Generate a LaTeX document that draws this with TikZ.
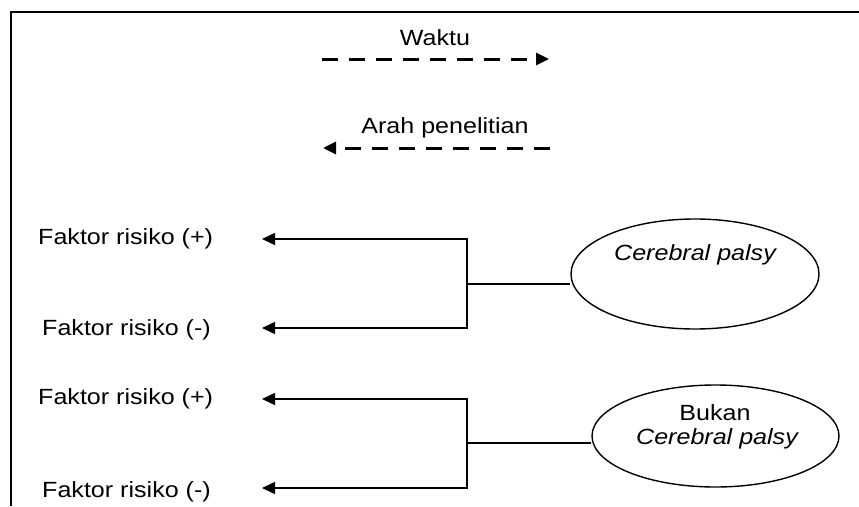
\documentclass[tikz,border=0pt]{standalone}
\usepackage{fontspec}
\setmainfont{Liberation Sans}[FakeStretch=1.14]
\usetikzlibrary{arrows.meta,shapes.geometric}
\begin{document}
\begin{tikzpicture}[x=1pt,y=-1pt,
  txt/.style={font=\fontsize{22}{26}\selectfont, inner sep=0pt},
  conn/.style={line width=1.5pt},
  arr/.style={conn, -{Triangle[length=13pt,width=12pt]}},
  darr/.style={line width=3pt, dash pattern=on 16pt off 11pt, -{Triangle[length=13pt,width=12pt]}},
  oval/.style={draw, ellipse, line width=1.4pt, inner sep=0pt}]
\useasboundingbox (0,0) rectangle (859,506);
\draw[line width=2.5pt] (11,506) -- (11,12) -- (859,12);

% time arrows
\node[txt] (waktu) at (435,38) {Waktu};
\coordinate (wa) at (322,59);
\coordinate (wb) at (549,59);
\draw[darr] (wa) -- (wb);
\node[txt] (arah) at (445,128) {Arah penelitian};
\coordinate (aa) at (550,148);
\coordinate (ab) at (323,148);
\draw[darr] (aa) -- (ab);

% group 1
\node[txt, anchor=west] (f1p) at (38,239) {Faktor risiko (+)};
\node[txt, anchor=west] (f1m) at (42,330) {Faktor risiko (-)};
\node[oval, minimum width=248pt, minimum height=110pt] (e1) at (695,274) {};
\node[txt] (e1t) at (695,255) {\itshape Cerebral palsy};
\coordinate (k1) at (467,284);
\coordinate (t1a) at (262,239);
\coordinate (t1b) at (262,328);
\draw[arr] (k1) |- (t1a);
\draw[arr] (k1) |- (t1b);
\draw[conn] (k1) -- (k1 -| e1.west);

% group 2
\node[txt, anchor=west] (f2p) at (38,399) {Faktor risiko (+)};
\node[txt, anchor=west] (f2m) at (42,492) {Faktor risiko (-)};
\node[oval, minimum width=247pt, minimum height=102pt] (e2) at (715.5,436) {};
\node[txt] (e2a) at (715,413) {Bukan};
\node[txt] (e2b) at (717,439) {\itshape Cerebral palsy};
\coordinate (k2) at (467,443);
\coordinate (t2a) at (262,399);
\coordinate (t2b) at (262,488);
\draw[arr] (k2) |- (t2a);
\draw[arr] (k2) |- (t2b);
\draw[conn] (k2) -- (k2 -| e2.west);
\end{tikzpicture}
\end{document}
